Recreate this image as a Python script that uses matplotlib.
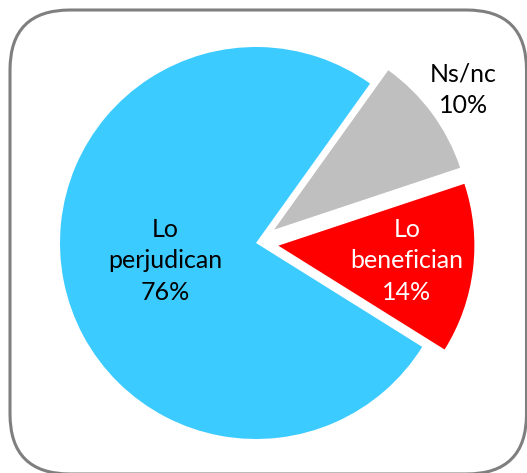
import numpy as np
import matplotlib
matplotlib.use("Agg")
import matplotlib.pyplot as plt
from matplotlib.patches import FancyBboxPatch

plt.rcParams['font.family'] = ['Lato', 'DejaVu Sans']

# data (counterclockwise from the red slice)
labels = ["Lo\nbenefician", "Ns/nc", "Lo\nperjudican"]
values = [14, 10, 76]
colors = ["#FF0000", "#BFBFBF", "#3CCBFF"]
text_colors = ["white", "black", "black"]
explode = [0.115, 0.115, 0]
label_dist = [0.66, 1.2, 0.47]

W, H = 527, 473
fig = plt.figure(figsize=(W / 100, H / 100), dpi=100)

# rounded frame, in pixels
frame = FancyBboxPatch((10, -1), 516.5, 464, boxstyle="round,pad=0,rounding_size=60",
                       transform=None, facecolor="white", edgecolor="#7F7F7F",
                       linewidth=2.2, zorder=-5)
fig.patches.append(frame)

R = 196.0
cx, cy = 256, 243
k = 1.35
side = 2 * R * k
ax = fig.add_axes([(cx - side / 2) / W, (H - cy - side / 2) / H, side / W, side / H])
ax.set_zorder(5)
ax.patch.set_alpha(0)

wedges, _ = ax.pie(values, colors=colors, explode=explode, startangle=-32,
                   counterclock=True, wedgeprops=dict(linewidth=0))
ax.set_xlim(-k, k)
ax.set_ylim(-k, k)
ax.set_aspect('equal')
ax.axis('off')

for w, lab, v, tc, d, ex in zip(wedges, labels, values, text_colors, label_dist, explode):
    mid = np.deg2rad((w.theta1 + w.theta2) / 2)
    x = (d + ex) * np.cos(mid)
    y = (d + ex) * np.sin(mid)
    ax.text(x, y, f"{lab}\n{v}%", ha="center", va="center", color=tc,
            fontsize=18, linespacing=1.45)

fig.savefig("out.png", dpi=100)
